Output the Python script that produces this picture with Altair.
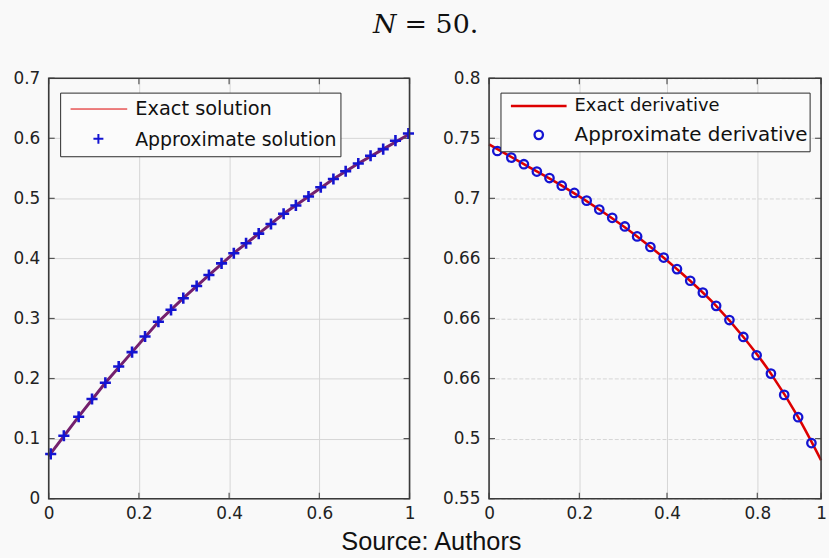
import json
import altair as alt
import pandas as pd

# ---------------- data ----------------
# Left panel: approximate solution markers
sol_x = [0.0055, 0.042, 0.083, 0.120, 0.157, 0.194, 0.231, 0.267, 0.304, 0.339,
         0.373, 0.410, 0.444, 0.479, 0.513, 0.547, 0.582, 0.616, 0.651, 0.685,
         0.720, 0.754, 0.789, 0.823, 0.858, 0.892, 0.927, 0.961, 0.997]
sol_y = [0.0745, 0.1047, 0.1365, 0.166, 0.193, 0.220, 0.244, 0.270, 0.2945, 0.3144,
         0.3338, 0.354, 0.3723, 0.3917, 0.4087, 0.4253, 0.4413, 0.4572, 0.4744, 0.4882,
         0.503, 0.5185, 0.5323, 0.545, 0.558, 0.571, 0.582, 0.596, 0.608]
# Left panel: exact solution curve
exact_sol_x = [0.0, 0.083, 0.157, 0.231, 0.304, 0.373, 0.444, 0.513, 0.582, 0.651,
               0.720, 0.789, 0.858, 0.927, 1.0]
exact_sol_y = [0.071, 0.1365, 0.193, 0.244, 0.2945, 0.3338, 0.3723, 0.4087, 0.4413, 0.4744,
               0.503, 0.5323, 0.558, 0.582, 0.607]

# Right panel: approximate derivative markers
der_x = [0.025, 0.067, 0.105, 0.144, 0.182, 0.219, 0.257, 0.294, 0.332, 0.371,
         0.409, 0.446, 0.486, 0.526, 0.566, 0.606, 0.644, 0.684, 0.724, 0.766,
         0.806, 0.849, 0.889, 0.931, 0.971]
der_y = [0.7394, 0.7339, 0.7284, 0.7223, 0.7169, 0.7105, 0.7045, 0.6981, 0.6907, 0.6838,
         0.6766, 0.6683, 0.6595, 0.6507, 0.6411, 0.6314, 0.6215, 0.6105, 0.5987, 0.5846,
         0.5694, 0.5541, 0.5364, 0.5178, 0.4963]
# Right panel: exact derivative curve
exact_der_x = [0.0, 0.105, 0.219, 0.332, 0.446, 0.566, 0.684, 0.766, 0.849, 0.931, 1.0]
exact_der_y = [0.745, 0.7284, 0.7105, 0.6907, 0.6683, 0.6411, 0.6105, 0.5846, 0.5541, 0.5178, 0.482]

# Tick values and the labels printed at them
left_x_ticks = [0, 0.25, 0.5, 0.75, 1]
left_x_labels = ["0", "0.2", "0.4", "0.6", "1"]
left_y_ticks = [0, 0.1, 0.2, 0.3, 0.4, 0.5, 0.6, 0.7]
left_y_labels = ["0", "0.1", "0.2", "0.3", "0.4", "0.5", "0.6", "0.7"]
right_x_ticks = [0, 0.272, 0.536, 0.808, 1]
right_x_labels = ["0", "0.2", "0.4", "0.8", "1"]
right_y_ticks = [0.45, 0.5, 0.55, 0.6, 0.65, 0.7, 0.75, 0.8]
right_y_labels = ["0.55", "0.5", "0.66", "0.66", "0.66", "0.7", "0.75", "0.8"]

left_legend = ["Exact solution", "Approximate solution"]
right_legend = ["Exact derivative", "Approximate derivative"]
title_parts = ["N", "= 50."]
source_text = "Source: Authors"

# ---------------- styling ----------------
W_L, W_R, H = 363, 334, 423
RED = "#dd0000"
BLUE = "#1414d2"
PURPLE = "#74206e"
PLUS = "M-1,0L1,0M0,-1L0,1"
GRID = "#d6d6d6"
FRAME = "#3a3a3a"
TICK = 6


def label_expr(ticks, labels):
    return f"{json.dumps(labels)}[indexof({json.dumps(ticks)}, datum.value)]"


def axis(ticks, labels, dash=None, orient="bottom"):
    kw = dict(values=ticks, labelExpr=label_expr(ticks, labels), grid=True,
              gridColor=GRID, gridWidth=1, ticks=False, domain=False,
              labelFlush=False, labelOverlap=False, title=None,
              labelFont="DejaVu Sans", labelFontSize=17, labelColor="#222222",
              labelPadding=9 if orient == "left" else 7)
    if dash:
        kw["gridDash"] = dash
    return alt.Axis(**kw)


one = pd.DataFrame({"a": [0]})


def deco_rect(x, x2, y, y2, fill="#fbfbfb", stroke="#2a2a2a", width=1.0, fill_opacity=1.0):
    return alt.Chart(one).mark_rect(fill=fill, fillOpacity=fill_opacity, stroke=stroke,
                                    strokeWidth=width).encode(
        x=alt.value(x), x2=alt.value(x2), y=alt.value(y), y2=alt.value(y2))


def deco_text(txt, x, y, size, font="DejaVu Sans", align="left", baseline="middle",
              style="normal"):
    return alt.Chart(one).mark_text(text=txt, align=align, baseline=baseline, font=font,
                                    fontSize=size, fontStyle=style, color="#111111").encode(
        x=alt.value(x), y=alt.value(y))


def inner_ticks(xticks, yticks, xs, ys, w, h):
    dx = pd.DataFrame({"t": xticks})
    dy = pd.DataFrame({"t": yticks})
    base_x = alt.Chart(dx).mark_rule(color="#555555", strokeWidth=1.2)
    base_y = alt.Chart(dy).mark_rule(color="#555555", strokeWidth=1.2)
    return [
        base_x.encode(x=alt.X("t:Q", scale=xs), y=alt.value(h), y2=alt.value(h - TICK)),
        base_x.encode(x=alt.X("t:Q", scale=xs), y=alt.value(0), y2=alt.value(TICK)),
        base_y.encode(y=alt.Y("t:Q", scale=ys), x=alt.value(0), x2=alt.value(TICK)),
        base_y.encode(y=alt.Y("t:Q", scale=ys), x=alt.value(w - TICK), x2=alt.value(w)),
    ]


# ---------------- left panel ----------------
df_sol = pd.DataFrame({"x": sol_x, "y": sol_y})
df_exact_sol = pd.DataFrame({"x": exact_sol_x, "y": exact_sol_y})

xs_l = alt.Scale(domain=[0, 1], nice=False)
ys_l = alt.Scale(domain=[0, 0.7], nice=False)

left_line = alt.Chart(df_exact_sol).mark_line(color=PURPLE, strokeWidth=3).encode(
    x=alt.X("x:Q", scale=xs_l, axis=axis(left_x_ticks, left_x_labels)),
    y=alt.Y("y:Q", scale=ys_l, axis=axis(left_y_ticks, left_y_labels, orient="left")),
)
left_pts = alt.Chart(df_sol).mark_point(shape=PLUS, size=125, strokeWidth=2.6, color=BLUE,
                                        filled=False, opacity=1).encode(
    x=alt.X("x:Q", scale=xs_l), y=alt.Y("y:Q", scale=ys_l))

left_leg = [
    deco_rect(12, 294, 15, 79),
    alt.Chart(one).mark_rule(color=RED, strokeWidth=1).encode(
        x=alt.value(22), x2=alt.value(79), y=alt.value(31)),
    alt.Chart(one).mark_point(shape=PLUS, size=100, strokeWidth=2, color=BLUE, filled=False,
                              opacity=1).encode(x=alt.value(50), y=alt.value(61)),
    deco_text(left_legend[0], 87, 31, 19.5),
    deco_text(left_legend[1], 87, 62, 19),
]

title_marks = [
    deco_text(title_parts[0], 350, -45, 27, font="DejaVu Serif", align="right",
              baseline="alphabetic", style="italic"),
    deco_text(title_parts[1], 358, -45, 27, font="DejaVu Serif", align="left",
              baseline="alphabetic"),
]
source_mark = deco_text(source_text, 385, 475, 25.5, font="Liberation Sans", align="center",
                        baseline="alphabetic")

left_frame = deco_rect(0, W_L, 0, H, fill="#ffffff", stroke=FRAME, width=1.6, fill_opacity=0)

left = alt.layer(
    left_line, *inner_ticks(left_x_ticks, left_y_ticks, xs_l, ys_l, W_L, H),
    left_pts, left_frame, *left_leg, *title_marks, source_mark,
).properties(width=W_L, height=H)

# ---------------- right panel ----------------
df_der = pd.DataFrame({"x": der_x, "y": der_y})
df_exact_der = pd.DataFrame({"x": exact_der_x, "y": exact_der_y})

xs_r = alt.Scale(domain=[0, 1], nice=False)
ys_r = alt.Scale(domain=[0.45, 0.8], nice=False)

right_line = alt.Chart(df_exact_der).mark_line(color=RED, strokeWidth=2.6, interpolate="monotone").encode(
    x=alt.X("x:Q", scale=xs_r, axis=axis(right_x_ticks, right_x_labels)),
    y=alt.Y("y:Q", scale=ys_r, axis=axis(right_y_ticks, right_y_labels, dash=[4, 2], orient="left")),
)
right_pts = alt.Chart(df_der).mark_point(shape="circle", size=72, strokeWidth=2.3, color=BLUE,
                                         filled=False, opacity=1).encode(
    x=alt.X("x:Q", scale=xs_r), y=alt.Y("y:Q", scale=ys_r))

right_frame = deco_rect(0, W_R, 0, H, fill="#ffffff", stroke=FRAME, width=1.6, fill_opacity=0)

right_leg = [
    deco_rect(12, 323, 15, 74),
    alt.Chart(one).mark_rule(color=RED, strokeWidth=2.6).encode(
        x=alt.value(22), x2=alt.value(78), y=alt.value(28)),
    alt.Chart(one).mark_point(shape="circle", size=72, strokeWidth=2.3, color=BLUE, filled=False,
                              opacity=1).encode(x=alt.value(50), y=alt.value(57)),
    deco_text(right_legend[0], 86, 28, 18),
    deco_text(right_legend[1], 86, 57, 20),
]

right = alt.layer(
    right_line, *inner_ticks(right_x_ticks, right_y_ticks, xs_r, ys_r, W_R, H),
    right_pts, right_frame, *right_leg,
).properties(width=W_R, height=H)

chart = alt.hconcat(left, right, spacing=80, bounds="flush").configure(
    background="#f9f9f9",
    padding={"left": 12, "top": 10, "right": 2, "bottom": 0},
).configure_view(stroke="transparent", strokeWidth=0)

chart.save("out.html", embed_options={"renderer": "svg", "actions": False})
